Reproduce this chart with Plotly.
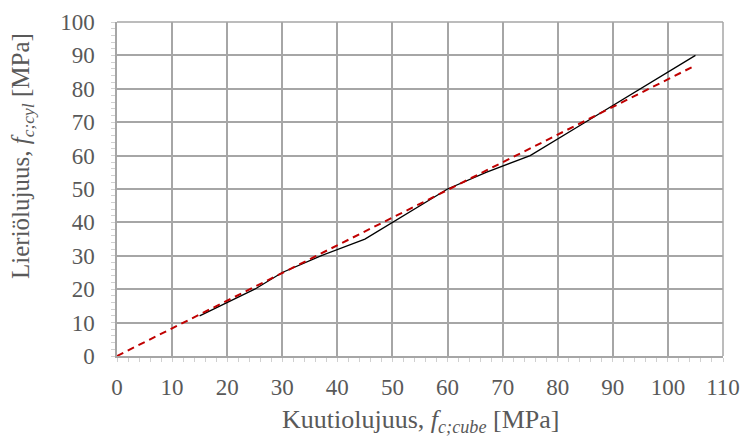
import plotly.graph_objects as go

# Cube strength vs. cylinder strength (strength classes), MPa
cube_strength = [15, 20, 25, 30, 37, 45, 50, 55, 60, 67, 75, 85, 95, 105]
cylinder_strength = [12, 16, 20, 25, 30, 35, 40, 45, 50, 55, 60, 70, 80, 90]

# Linear trend through the origin
trend_x = [0, 105]
trend_y = [0, 87]

x_ticks = list(range(0, 111, 10))
y_ticks = list(range(0, 101, 10))

grid_color = "#a6a6a6"
text_color = "#595959"
font_family = "Liberation Serif, Times New Roman, serif"

fig = go.Figure()
fig.add_trace(go.Scatter(
    x=cube_strength, y=cylinder_strength, mode="lines",
    line=dict(color="black", width=1.3), showlegend=False,
))
fig.add_trace(go.Scatter(
    x=trend_x, y=trend_y, mode="lines",
    line=dict(color="#c00000", width=2, dash="7px,5px"), showlegend=False,
))

axis_common = dict(
    showgrid=True, gridcolor=grid_color, gridwidth=1.5,
    showline=True, linecolor=grid_color, linewidth=1.5,
    zeroline=False, automargin=False,
    ticks="outside", ticklen=4, tickcolor="#d0d0d0", tickwidth=1,
    tickfont=dict(family=font_family, size=23, color=text_color),
    minor=dict(dtick=2, ticks="outside", ticklen=4, tickcolor="#d0d0d0",
               tickwidth=1, showgrid=False),
    mirror=False,
)

fig.update_layout(
    width=741, height=436,
    margin=dict(l=117, r=18, t=22, b=80),
    paper_bgcolor="white", plot_bgcolor="white",
    font=dict(family=font_family, color=text_color),
    xaxis=dict(
        range=[0, 110], tickvals=x_ticks, ticktext=[str(v) for v in x_ticks],
        ticklabelstandoff=6,
        **axis_common,
    ),
    yaxis=dict(
        range=[0, 100], tickvals=y_ticks, ticktext=[str(v) for v in y_ticks],
        ticklabelstandoff=12,
        **axis_common,
    ),
)

# Axis titles as annotations so they can be placed freely
fig.add_annotation(
    text="Kuutiolujuus, <i>f</i><sub><i>c;cube</i></sub> [MPa]",
    xref="paper", yref="paper", x=0.5, y=(356 - 421) / 334,
    xanchor="center", yanchor="middle", showarrow=False,
    font=dict(family=font_family, size=26, color=text_color),
)
fig.add_annotation(
    text="Lieriölujuus, <i>f</i><sub><i>c;cyl</i></sub> [MPa]",
    xref="paper", yref="paper", x=(22 - 117) / 606, y=(356 - 156) / 334,
    xanchor="center", yanchor="middle", textangle=-90, showarrow=False,
    font=dict(family=font_family, size=25, color=text_color),
)

# Border lines on the top and right edges of the plot area
fig.add_shape(type="line", xref="paper", yref="paper", x0=1, x1=1, y0=0, y1=1,
              line=dict(color=grid_color, width=1.5))
fig.add_shape(type="line", xref="paper", yref="paper", x0=0, x1=1, y0=1, y1=1,
              line=dict(color=grid_color, width=1.5))

fig.write_html("out.html")
